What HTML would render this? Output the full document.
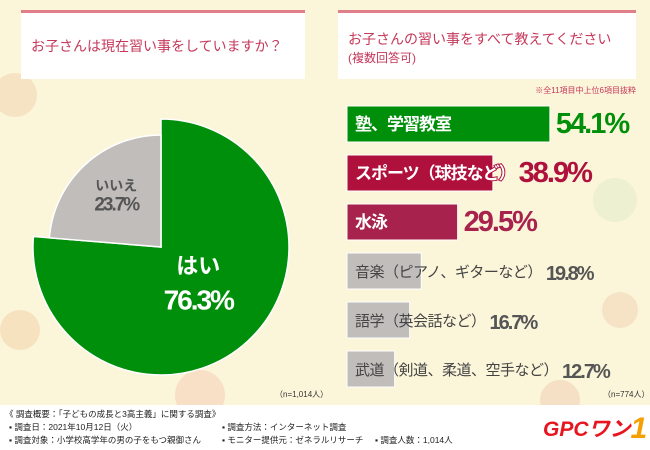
<!DOCTYPE html>
<html><head><meta charset="utf-8"><style>
body{margin:0;width:650px;height:450px;overflow:hidden;font-family:"Liberation Sans","Noto Sans CJK JP",sans-serif;}
#root{position:relative;width:650px;height:450px;background:#fbf5d9;}
.box{position:absolute;background:#fff;border-top:3px solid #e07f8a;color:#c5385a;}
.t{position:absolute;white-space:nowrap;}
</style></head><body>
<div id="root">
<svg width="650" height="450" style="position:absolute;left:0;top:0">
<circle cx="15" cy="95" r="22" fill="#f6e3c4"/><circle cx="20" cy="330" r="20" fill="#f7e2c0"/><circle cx="620" cy="310" r="18" fill="#f6e2c5"/>
<circle cx="615" cy="200" r="22" fill="#eef0d2"/><circle cx="200" cy="395" r="25" fill="#f8e0c6"/><circle cx="560" cy="400" r="20" fill="#f5e0c5"/>
</svg>
<div class="box" style="left:21px;top:10px;width:284px;height:66px;">
<div class="t" style="left:10px;top:23px;font-size:14px;">お子さんは現在習い事をしていますか？</div></div>
<div class="box" style="left:338px;top:10px;width:298px;height:66px;">
<div class="t" style="left:10px;top:17px;font-size:14px;line-height:18px;">お子さんの習い事をすべて教えてください<br><span style="font-size:12px">(複数回答可)</span></div></div>
<div class="t" style="right:14px;top:85px;font-size:8px;color:#c5385a;">※全11項目中上位6項目抜粋</div>
<svg id="pie" width="650" height="450" style="position:absolute;left:0;top:0"></svg>
<svg id="bars" width="650" height="450" style="position:absolute;left:0;top:0"></svg>
<div class="t" style="left:275px;top:389px;font-size:8px;color:#333;">（n=1,014人）</div>
<div class="t" style="left:603px;top:389px;font-size:8px;color:#333;">（n=774人）</div>
<div style="position:absolute;left:0;top:405px;width:650px;height:45px;background:#fff;font-size:8.5px;color:#222;">
<div class="t" style="left:5px;top:3px">《 調査概要：「子どもの成長と3高主義」に関する調査》</div>
<div class="t" style="left:9px;top:16px">▪ 調査日：2021年10月12日（火）</div>
<div class="t" style="left:9px;top:29px">▪ 調査対象：小学校高学年の男の子をもつ親御さん</div>
<div class="t" style="left:222px;top:16px">▪ 調査方法：インターネット調査</div>
<div class="t" style="left:222px;top:29px">▪ モニター提供元：ゼネラルリサーチ</div>
<div class="t" style="left:375px;top:29px">▪ 調査人数：1,014人</div>
<div class="t" style="left:543px;top:5px;font-size:21px;font-weight:bold;font-style:italic;color:#e8141e;">GPCワン<span style="color:#f5a000;font-size:30px;position:relative;top:2px">1</span></div>
</div>
</div>
<script>
const pieLabels=["はい","いいえ"];
const pieValues=[76.3,23.7];
const barLabels=["塾、学習教室","スポーツ（球技など）","水泳","音楽（ピアノ、ギターなど）","語学（英会話など）","武道（剣道、柔道、空手など）"];
const barValues=[54.1,38.9,29.5,19.8,16.7,12.7];
const NS="http://www.w3.org/2000/svg";
function mk(p,t,a){const e=document.createElementNS(NS,t);for(const k in a)e.setAttribute(k,a[k]);p.appendChild(e);return e;}
const pie=document.getElementById('pie');
const cx=161,cy=247,radii=[128,112],pc=["#008f0a","#c0bdbb"];
let start=0;const total=pieValues.reduce((a,b)=>a+b,0);
pieValues.forEach((v,i)=>{const a0=start/total*2*Math.PI,a1=(start+v)/total*2*Math.PI;start+=v;const r=radii[i];
const x0=cx+r*Math.sin(a0),y0=cy-r*Math.cos(a0),x1=cx+r*Math.sin(a1),y1=cy-r*Math.cos(a1);
const p=mk(pie,'path',{d:`M${cx},${cy}L${x0},${y0}A${r},${r} 0 ${a1-a0>Math.PI?1:0} 1 ${x1},${y1}Z`,fill:pc[i],stroke:'#fff','stroke-width':1.5});


const mid=(a0+a1)/2,lr=i==0?55:66;const lx=cx+lr*Math.sin(mid),ly=cy-lr*Math.cos(mid);
const col=i==0?'#fff':'#555';
const t1=mk(pie,'text',{x:lx,y:ly-(i==0?14:8),'text-anchor':'middle','font-size':i==0?22:14,'font-weight':'bold',fill:col});t1.textContent=pieLabels[i];


const t2=mk(pie,'text',{x:lx,y:ly+(i==0?22:12),'text-anchor':'middle','font-size':i==0?28:19,'font-weight':'bold',fill:col,'letter-spacing':-2});t2.textContent=pieValues[i].toFixed(1)+'%';


});
const bars=document.getElementById('bars');
const x0=347,scale=3.75,bc=["#008f0a","#b0103c","#a8224e","#c0bdbb","#c0bdbb","#c0bdbb"],vc=["#008f0a","#b0103c","#a8224e","#555","#555","#555"];
barValues.forEach((v,i)=>{const y=106+i*49,w=v*scale,top=i<3;
const r=mk(bars,'rect',{x:x0,y:y,width:w,height:36,fill:bc[i],stroke:'#fff','stroke-width':1});


const fs=top?17:15;
const attrs={x:x0+8,y:y+24,'font-size':fs,'font-weight':top?'bold':'normal',fill:top?'#fff':'#444','letter-spacing':top?-1:-0.5};
if(top){attrs.stroke=bc[i];attrs['stroke-width']=2;attrs['paint-order']='stroke';}
const t=mk(bars,'text',attrs);t.textContent=barLabels[i];


const tw=t.getComputedTextLength();
const vx=Math.max(x0+w+6,x0+8+tw+4);
const vt=mk(bars,'text',{x:vx,y:y+27,'font-size':top?29:20,'font-weight':'bold',fill:vc[i],'letter-spacing':-2});vt.textContent=v.toFixed(1)+'%';


});
</script>
</body></html>
